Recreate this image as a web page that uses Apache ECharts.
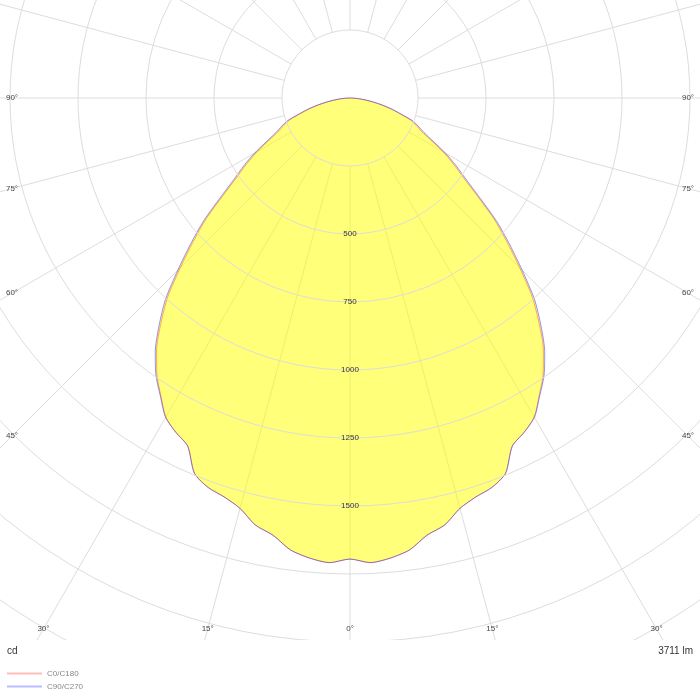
<!DOCTYPE html>
<html lang="en">

<head>
    <meta charset="UTF-8">
    <title>Light distribution</title>
    <style type="text/css">
    body,
    html {
        width: 100%;
        height: 100%;
        margin: 0;
        padding: 0;
        background: #fff;
    }

    #chart {
        width: 700px;
        height: 700px;
    }
    </style>
</head>

<body>
    <div id="chart"></div>
    <script src="https://cdn.jsdelivr.net/npm/echarts@6/dist/echarts.min.js"></script>
    <script type="text/javascript">

    // gamma angles (deg from nadir) and intensities in cd
    var gammas = [0, 2.5, 5, 7.5, 10, 12.5, 15, 17.5, 20, 22.5, 25, 27.5, 30, 32.5, 35, 37.5, 40, 42.5, 45,
        47.5, 50, 52.5, 55, 57.5, 60, 62.5, 65, 67.5, 70, 72.5, 75, 77.5, 80, 82.5, 85, 87.5, 90];
    var c0c180 = [1695, 1710, 1698, 1676, 1632, 1608, 1562, 1538, 1524, 1494, 1412, 1386, 1354, 1295, 1238, 1168, 1082, 992, 882,
        782, 690, 588, 508, 450, 394, 335, 290, 263, 237, 191, 156, 120, 87, 58, 36, 14, 0];
    var c90c270 = [1695, 1710, 1698, 1676, 1632, 1608, 1562, 1538, 1524, 1494, 1412, 1386, 1356, 1298, 1244, 1176, 1092, 1004, 895,
        795, 702, 600, 520, 462, 405, 345, 300, 272, 245, 198, 162, 125, 90, 60, 37, 15, 0];
    var angleLabels = [0, 15, 30, 45, 60, 75, 90];
    var ringLabels = [500, 750, 1000, 1250, 1500];
    var seriesNames = ['C0/C180', 'C90/C270'];
    var fluxText = '3711 lm';
    var unitText = 'cd';

    var cx = 350, cy = 98;
    var font = '"Liberation Sans", Arial, sans-serif';

    var chart = echarts.init(document.getElementById('chart'));

    // one half on the right (360 - g), the other on the left (g)
    function plane(vals) {
        var out = [];
        for (var i = gammas.length - 1; i >= 0; i--) {
            out.push([vals[i], 360 - gammas[i]]);
        }
        for (var j = 1; j < gammas.length; j++) {
            out.push([vals[j], gammas[j]]);
        }
        return out;
    }

    // angle labels sit where each spoke leaves the plot box
    function labelGraphics() {
        var g = [];
        for (var i = 0; i < angleLabels.length; i++) {
            var a = angleLabels[i];
            var rad = a * Math.PI / 180;
            var s = Math.sin(rad), c = Math.cos(rad);
            var t = Infinity;
            if (s > 1e-6) t = Math.min(t, (cx - 12) / s);
            if (c > 1e-6) t = Math.min(t, (629 - cy) / c);
            var sides = a === 0 ? [1] : [-1, 1];
            for (var k = 0; k < sides.length; k++) {
                g.push({
                    type: 'text',
                    z: 60,
                    x: cx + sides[k] * t * s,
                    y: cy + t * c,
                    style: {
                        text: a + '°',
                        fill: '#444',
                        font: '8px ' + font,
                        align: 'center',
                        verticalAlign: 'middle'
                    }
                });
            }
        }
        return g;
    }

    var graphics = [{
        type: 'rect',
        z: 50,
        shape: { x: 0, y: 640, width: 700, height: 60 },
        style: { fill: '#fff' }
    }, {
        type: 'text',
        z: 60,
        x: 7,
        y: 651,
        style: { text: unitText, fill: '#333', font: '10px ' + font, verticalAlign: 'middle' }
    }, {
        type: 'text',
        z: 60,
        x: 693,
        y: 651,
        style: { text: fluxText, fill: '#333', font: '10px ' + font, align: 'right', verticalAlign: 'middle' }
    }].concat(labelGraphics());

    var option = {
        animation: false,
        backgroundColor: '#fff',
        polar: [{
            center: [cx, cy],
            radius: [68, 680]
        }, {
            center: [cx, cy],
            radius: [0, 680]
        }],
        angleAxis: [{
            polarIndex: 0,
            type: 'value',
            min: 0,
            max: 360,
            interval: 15,
            startAngle: 270,
            axisLine: { show: false },
            axisTick: { show: false },
            axisLabel: { show: false },
            splitLine: { lineStyle: { color: '#dddddd', width: 1 } }
        }, {
            polarIndex: 1,
            type: 'value',
            min: 0,
            max: 360,
            interval: 15,
            startAngle: 270,
            axisLine: { show: false },
            axisTick: { show: false },
            axisLabel: { show: false },
            splitLine: { show: false }
        }],
        radiusAxis: [{
            polarIndex: 0,
            show: false,
            min: 0,
            max: 2500
        }, {
            polarIndex: 1,
            type: 'value',
            min: 0,
            max: 2500,
            interval: 250,
            axisLine: { show: false },
            axisTick: { show: false },
            splitLine: { lineStyle: { color: '#dddddd', width: 1 } },
            axisLabel: {
                margin: 0,
                align: 'center',
                verticalAlign: 'middle',
                fontSize: 8,
                fontFamily: font,
                color: '#333',
                formatter: function(v) {
                    return ringLabels.indexOf(v) >= 0 ? String(v) : '';
                }
            },
            z: 10
        }],
        legend: {
            orient: 'vertical',
            left: 7,
            top: 669,
            padding: 0,
            z: 60,
            itemWidth: 35,
            itemHeight: 2,
            itemGap: 4,
            textStyle: { fontSize: 8, color: '#888', fontFamily: font, lineHeight: 9 },
            data: [{
                name: seriesNames[0],
                icon: 'rect',
                itemStyle: { color: '#ffbcbc' }
            }, {
                name: seriesNames[1],
                icon: 'rect',
                itemStyle: { color: '#bcbcff' }
            }]
        },
        graphic: graphics,
        series: [{
            name: seriesNames[0],
            type: 'line',
            coordinateSystem: 'polar',
            polarIndex: 1,
            data: plane(c0c180),
            symbol: 'none',
            smooth: 0.25,
            lineStyle: { color: 'rgba(255, 60, 0, 0.45)', width: 1 },
            itemStyle: { color: 'rgba(255, 60, 0, 0.45)' },
            areaStyle: { color: 'rgba(255, 255, 0, 0.31)', opacity: 1 }
        }, {
            name: seriesNames[1],
            type: 'line',
            coordinateSystem: 'polar',
            polarIndex: 1,
            data: plane(c90c270),
            symbol: 'none',
            smooth: 0.25,
            lineStyle: { color: 'rgba(40, 40, 255, 0.5)', width: 1 },
            itemStyle: { color: 'rgba(40, 40, 255, 0.5)' },
            areaStyle: { color: 'rgba(255, 255, 0, 0.31)', opacity: 1 }
        }]
    };

    chart.setOption(option);
    </script>
</body>

</html>
